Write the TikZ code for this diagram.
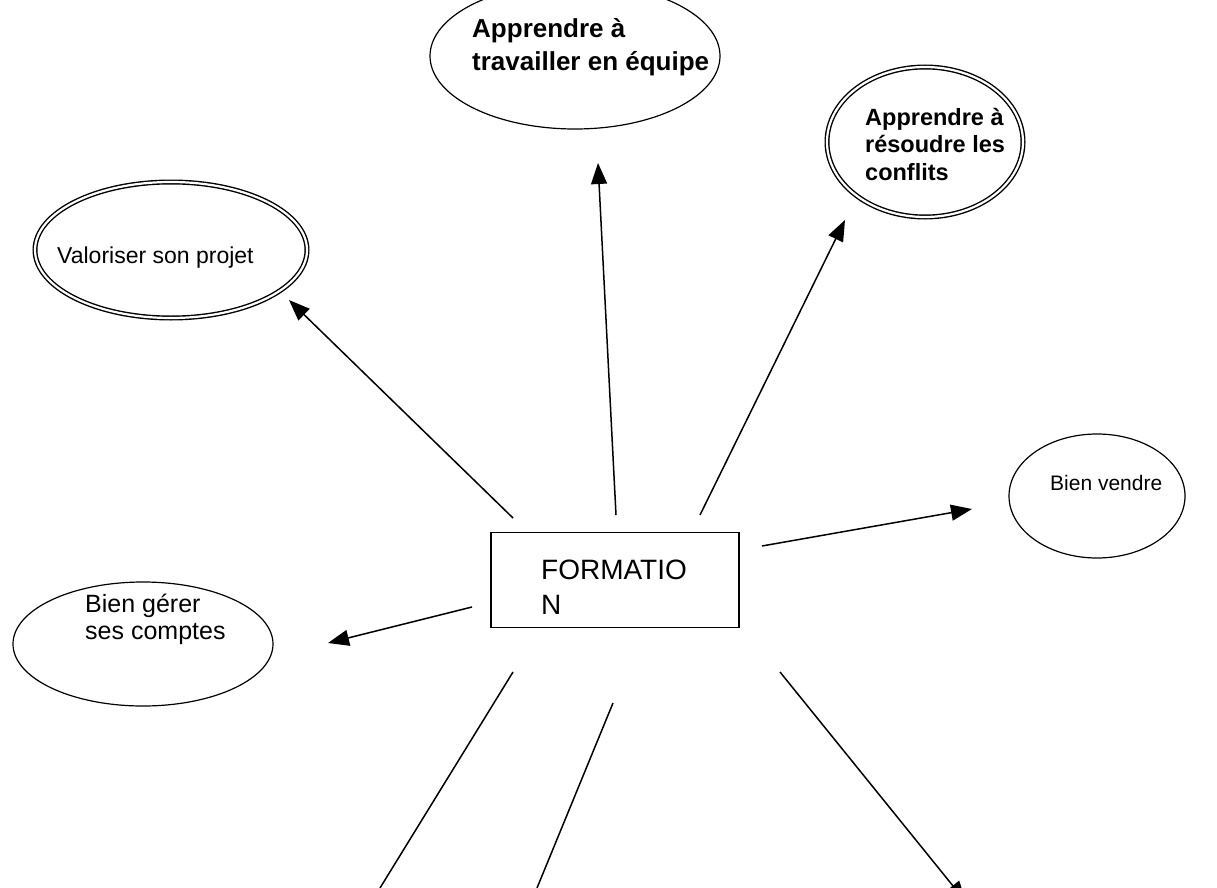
\documentclass[tikz,border=0pt]{standalone}
\usepackage{fontspec}
\setmainfont{Liberation Sans}
\usetikzlibrary{shapes.geometric,arrows.meta}
\tikzstyle{bulle} = [draw, ellipse, inner sep=0pt, line width=1.2pt]
\tikzstyle{doublebulle} = [bulle, double, double distance=2.2pt, line width=1.4pt]
\tikzstyle{cadre} = [draw, rectangle, line width=1.2pt, minimum width=248pt, minimum height=95pt]
\tikzstyle{texte} = [align=left, inner sep=0pt]
\tikzstyle{to} = [-{Triangle[length=21pt,width=16pt]}, line width=1.5pt]
\tikzstyle{trait} = [line width=1.5pt]
\begin{document}
\begin{tikzpicture}[x=1pt, y=-1pt]
\clip (0,0) rectangle (1217,888);
\fill[white] (0,0) rectangle (1217,888);
\node (form) [cadre] at (615,580) {};
\node (formtxt) [texte, anchor=west, font=\fontsize{28}{35}\selectfont] at (541,587)
  {FORMATIO\\N};
\node (equipe) [bulle, minimum width=290pt, minimum height=146pt] at (575,56) {};
\node (equipetxt) [texte, anchor=north west, font=\fontsize{26}{33}\selectfont\bfseries] at (472,18)
  {Apprendre à\\travailler en équipe};
\node (conflits) [doublebulle, minimum width=196pt, minimum height=150pt] at (925,142) {};
\node (conflitstxt) [texte, anchor=north west, font=\fontsize{23.5}{27.5}\selectfont\bfseries] at (865,108)
  {Apprendre à\\résoudre les\\conflits};
\node (valo) [doublebulle, minimum width=272pt, minimum height=136pt] at (171,250) {};
\node (valotxt) [texte, anchor=base west, font=\fontsize{23}{27}\selectfont] at (57,263)
  {Valoriser son projet};
\node (vendre) [bulle, minimum width=176pt, minimum height=124pt] at (1097,496) {};
\node (vendretxt) [texte, anchor=base west, font=\fontsize{21}{25}\selectfont] at (1050,490)
  {Bien vendre};
\node (gerer) [bulle, minimum width=260pt, minimum height=124pt] at (143,644) {};
\node (gerertxt) [texte, anchor=north west, font=\fontsize{25}{27}\selectfont] at (85,594)
  {Bien gérer\\ses comptes};
\coordinate (d1) at (513,518);  \coordinate (f1) at (289,300);
\coordinate (d2) at (616,515);  \coordinate (f2) at (598,163);
\coordinate (d3) at (700,515);  \coordinate (f3) at (845,220);
\coordinate (d4) at (762,546);  \coordinate (f4) at (972,509);
\coordinate (d5) at (472,607);  \coordinate (f5) at (328,643);
\coordinate (d6) at (513,672);  \coordinate (f6) at (380,888);
\coordinate (d7) at (613,703);  \coordinate (f7) at (537,888);
\coordinate (d8) at (780,672);  \coordinate (f8) at (966,902);
\draw[to] (d1) -- (f1);
\draw[to] (d2) -- (f2);
\draw[to] (d3) -- (f3);
\draw[to] (d4) -- (f4);
\draw[to] (d5) -- (f5);
\draw[trait] (d6) -- (f6);
\draw[trait] (d7) -- (f7);
\draw[to] (d8) -- (f8);
\end{tikzpicture}
\end{document}
